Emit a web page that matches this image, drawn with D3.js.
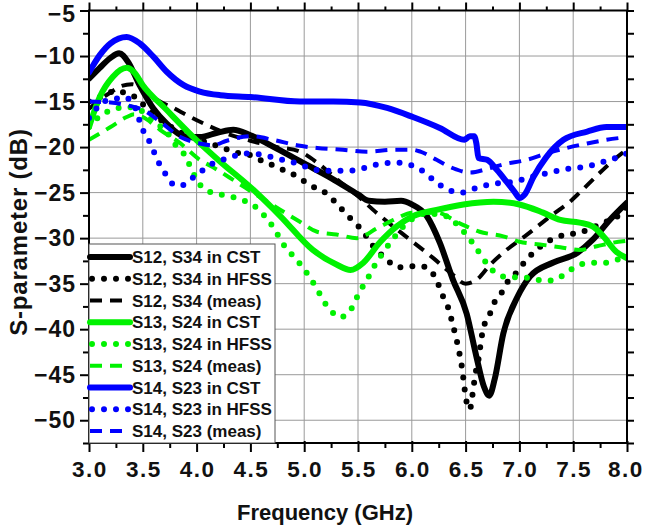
<!DOCTYPE html>
<html><head><meta charset="utf-8">
<script src="https://cdn.jsdelivr.net/npm/d3@7"></script>
<style>
body{margin:0;background:#fff;}
svg{display:block;}
text{font-family:"Liberation Sans",Arial,sans-serif;font-weight:bold;fill:#111;}
</style></head>
<body>
<svg id="chart" width="645" height="529"></svg>
<script>
// ---- data (frequency GHz, S-parameter dB) ----
const s12Cst = [[3.0,-12.5],[3.1,-11.3],[3.2,-10.2],[3.28,-9.7],[3.36,-10.6],[3.47,-13.2],[3.6,-15.8],[3.72,-17.4],[3.88,-18.8],[4.03,-18.9],[4.2,-18.4],[4.34,-18.1],[4.5,-18.7],[4.75,-20.2],[5.0,-21.8],[5.25,-23.4],[5.5,-25.2],[5.6,-25.9],[5.75,-26.0],[5.9,-25.9],[6.0,-26.3],[6.14,-27.6],[6.26,-30.5],[6.38,-34.5],[6.51,-38.3],[6.6,-43],[6.67,-46.3],[6.72,-47.3],[6.77,-45.5],[6.85,-40.5],[6.98,-36.5],[7.1,-34.2],[7.31,-32.7],[7.54,-31.6],[7.68,-30.2],[7.84,-28.0],[8.0,-26.1]];
const s12Hfss = [[3.0,-15.0],[3.1,-14.5],[3.24,-13.9],[3.4,-14.3],[3.5,-15.3],[3.63,-16.7],[3.78,-17.9],[3.95,-18.9],[4.1,-19.5],[4.22,-20.0],[4.4,-20.7],[4.53,-21.0],[4.62,-21.6],[4.73,-22.1],[4.84,-22.7],[4.93,-23.2],[5.02,-23.9],[5.12,-24.6],[5.22,-25.2],[5.3,-26.2],[5.38,-27.2],[5.46,-28.2],[5.55,-29.3],[5.61,-30.4],[5.69,-31.5],[5.77,-32.4],[5.87,-33.2],[5.98,-33.1],[6.09,-33.1],[6.19,-33.8],[6.24,-34.9],[6.29,-36.4],[6.34,-37.7],[6.37,-39.0],[6.4,-40.4],[6.43,-41.9],[6.45,-43.1],[6.47,-44.5],[6.49,-46.5],[6.52,-48.5],[6.54,-48.8],[6.56,-47.5],[6.59,-45.0],[6.62,-43.3],[6.65,-40.8],[6.68,-39.3],[6.73,-38.2],[6.77,-37.0],[6.84,-35.9],[6.9,-34.6],[6.98,-33.7],[7.05,-32.6],[7.13,-31.6],[7.22,-30.7],[7.33,-30.0],[7.44,-29.6],[7.56,-29.4],[7.67,-28.9],[7.78,-28.3],[7.89,-27.8],[8.0,-26.5]];
const s12Meas = [[3.0,-15.8],[3.1,-14.8],[3.2,-14.0],[3.3,-13.3],[3.4,-13.1],[3.5,-13.6],[3.63,-14.8],[3.8,-15.8],[3.91,-16.5],[4.1,-17.6],[4.3,-18.6],[4.5,-19.3],[4.75,-20.0],[4.96,-20.5],[5.12,-21.7],[5.3,-23.5],[5.5,-25.4],[5.68,-27.3],[5.9,-29.4],[6.2,-32.2],[6.38,-34.0],[6.5,-35.0],[6.6,-34.6],[6.73,-32.9],[6.88,-31.3],[7.05,-29.8],[7.31,-27.4],[7.47,-26.0],[7.56,-25.0],[7.75,-22.8],[7.94,-20.8],[8.0,-20.3]];
const s13Cst = [[3.0,-17.8],[3.1,-14.5],[3.22,-12.3],[3.35,-11.3],[3.42,-11.8],[3.5,-13.2],[3.72,-15.9],[3.97,-18.9],[4.22,-21.6],[4.5,-24.4],[4.78,-27.6],[5.08,-31.3],[5.3,-32.9],[5.43,-33.5],[5.55,-32.7],[5.7,-30.5],[5.86,-28.7],[6.01,-27.6],[6.23,-26.9],[6.48,-26.3],[6.76,-26.0],[7.0,-26.3],[7.22,-27.2],[7.38,-28.0],[7.56,-28.3],[7.68,-28.7],[7.78,-29.8],[7.9,-31.5],[8.0,-32.2]];
const s13Hfss = [[3.0,-17.8],[3.1,-16.6],[3.22,-15.9],[3.35,-15.6],[3.5,-16.1],[3.6,-17.2],[3.72,-18.3],[3.8,-19.7],[3.88,-20.7],[3.94,-22.1],[4.0,-23.6],[4.1,-24.8],[4.22,-25.2],[4.4,-25.7],[4.55,-26.6],[4.7,-28.6],[4.82,-30.9],[4.9,-32.0],[4.98,-33.1],[5.05,-34.3],[5.12,-35.6],[5.18,-36.9],[5.25,-38.0],[5.33,-38.7],[5.43,-37.9],[5.49,-36.5],[5.54,-35.4],[5.6,-34.2],[5.66,-32.9],[5.72,-31.8],[5.8,-30.5],[5.95,-28.4],[6.14,-27.3],[6.32,-27.6],[6.46,-29.0],[6.57,-30.6],[6.65,-32.0],[6.71,-33.0],[6.8,-34.0],[6.91,-34.3],[7.02,-34.3],[7.14,-34.5],[7.25,-34.7],[7.36,-34.4],[7.45,-33.7],[7.56,-32.9],[7.68,-32.7],[7.8,-32.7],[7.9,-32.4],[8.0,-32.1]];
const s13Meas = [[3.0,-19.2],[3.2,-17.8],[3.35,-16.7],[3.42,-16.4],[3.5,-16.7],[3.66,-18.1],[3.85,-19.6],[4.03,-21.4],[4.15,-22.2],[4.34,-23.6],[4.55,-25.2],[4.78,-26.9],[4.96,-28.2],[5.12,-29.3],[5.3,-29.6],[5.49,-30.0],[5.68,-28.9],[5.83,-28.0],[6.01,-27.2],[6.23,-27.2],[6.45,-28.4],[6.63,-29.3],[6.85,-29.8],[7.0,-30.4],[7.19,-30.7],[7.38,-31.0],[7.56,-31.3],[7.72,-30.9],[7.87,-30.5],[8.0,-30.3]];
const s14Cst = [[3.0,-11.8],[3.1,-9.9],[3.2,-8.6],[3.35,-7.9],[3.47,-8.6],[3.6,-10.1],[3.72,-11.7],[3.88,-13.2],[4.03,-13.9],[4.22,-14.3],[4.5,-14.5],[4.96,-15.0],[5.27,-15.0],[5.52,-15.1],[5.77,-15.7],[6.01,-16.7],[6.26,-17.9],[6.49,-19.2],[6.54,-18.8],[6.58,-18.8],[6.6,-19.6],[6.62,-21.2],[6.7,-21.4],[6.79,-22.5],[6.88,-23.8],[6.96,-25.0],[7.0,-25.6],[7.05,-25.2],[7.13,-23.3],[7.25,-21.1],[7.41,-19.2],[7.63,-18.3],[7.81,-17.8],[8.0,-17.8]];
const s14Hfss = [[3.0,-16.8],[3.06,-15.9],[3.13,-15.0],[3.22,-14.8],[3.32,-14.5],[3.41,-15.2],[3.5,-18.1],[3.57,-19.6],[3.61,-20.7],[3.66,-22.0],[3.72,-23.1],[3.8,-24.2],[3.86,-24.2],[3.96,-23.4],[4.05,-22.6],[4.15,-21.8],[4.27,-21.3],[4.37,-20.9],[4.48,-20.7],[4.59,-20.8],[4.7,-21.1],[4.8,-21.4],[4.93,-21.8],[5.05,-22.3],[5.16,-22.6],[5.38,-22.6],[5.5,-22.5],[5.61,-22.1],[5.73,-21.8],[5.84,-21.7],[5.96,-21.9],[6.06,-22.3],[6.14,-23.0],[6.23,-23.9],[6.34,-24.7],[6.46,-25.0],[6.6,-24.5],[6.73,-24.1],[6.85,-23.9],[6.96,-23.8],[7.07,-23.4],[7.17,-23.1],[7.28,-22.8],[7.4,-22.5],[7.5,-22.3],[7.61,-22.2],[7.73,-21.8],[7.84,-21.4],[7.96,-20.9],[8.0,-20.7]];
const s14Meas = [[3.0,-15.0],[3.2,-15.1],[3.35,-15.4],[3.5,-15.9],[3.66,-17.2],[3.85,-18.9],[4.03,-19.6],[4.15,-19.8],[4.28,-19.3],[4.5,-18.8],[4.71,-19.2],[4.93,-19.8],[5.12,-20.1],[5.36,-20.3],[5.58,-20.5],[5.83,-20.3],[6.01,-20.3],[6.08,-20.5],[6.23,-21.4],[6.38,-22.3],[6.54,-22.8],[6.7,-22.4],[6.85,-21.9],[7.07,-21.4],[7.25,-20.7],[7.44,-20.1],[7.63,-19.6],[7.81,-19.2],[8.0,-18.9]];

const seriesNames = ["S12, S34 in CST","S12, S34 in HFSS","S12, S34 (meas)","S13, S24 in CST","S13, S24 in HFSS","S13, S24 (meas)","S14, S23 in CST","S14, S23 in HFSS","S14, S23 (meas)"];
const seriesData = [s12Cst,s12Hfss,s12Meas,s13Cst,s13Hfss,s13Meas,s14Cst,s14Hfss,s14Meas];
const seriesColor = ["#000000","#000000","#000000","#00f200","#00f200","#00f200","#0000ff","#0000ff","#0000ff"];
const seriesStyle = ["solid","dot","dash","solid","dot","dash","solid","dot","dash"];
const xTicks = [3.0,3.5,4.0,4.5,5.0,5.5,6.0,6.5,7.0,7.5,8.0];
const yTicks = [-5,-10,-15,-20,-25,-30,-35,-40,-45,-50];
const xTitle = "Frequency (GHz)";
const yTitle = "S-parameter (dB)";

// ---- layout ----
const L = 89, R = 627, T = 10.5, B = 443;
const svg = d3.select("#chart");
const x = d3.scaleLinear().domain([3, 8]).range([L, R]);
const y = d3.scaleLinear().domain([-5, -52.5]).range([T, B]);

// grid
const grid = svg.append("g").attr("stroke", "#9a9a9a").attr("stroke-width", 1);
xTicks.slice(1, -1).forEach(t => grid.append("line").attr("x1", x(t)).attr("x2", x(t)).attr("y1", T).attr("y2", B));
yTicks.slice(1).forEach(t => grid.append("line").attr("x1", L).attr("x2", R).attr("y1", y(t)).attr("y2", y(t)));

// clip
svg.append("defs").append("clipPath").attr("id", "clip")
  .append("rect").attr("x", L).attr("y", T).attr("width", R - L).attr("height", B - T);

const line = d3.line().x(d => x(d[0])).y(d => y(d[1])).curve(d3.curveMonotoneX);
const styleOf = s => s === "solid" ? {w: 6, dash: null, cap: "round"}
  : s === "dot" ? {w: 6, dash: "0,12", cap: "round"}
  : {w: 4, dash: "12,8", cap: "butt"};

const lines = svg.append("g").attr("clip-path", "url(#clip)");
seriesData.forEach((d, i) => {
  const st = styleOf(seriesStyle[i]);
  lines.append("path").attr("d", line(d)).attr("fill", "none")
    .attr("stroke", seriesColor[i]).attr("stroke-width", st.w)
    .attr("stroke-linecap", st.cap).attr("stroke-linejoin", "round")
    .attr("stroke-dasharray", st.dash);
});

// axes
const isMajorX = d => Math.abs(d * 2 - Math.round(d * 2)) < 1e-6;
const gb = svg.append("g").attr("transform", `translate(0,${B})`)
  .call(d3.axisBottom(x).tickValues(d3.range(3, 8.001, 0.25)).tickFormat("").tickSizeOuter(0));
gb.selectAll(".tick line").attr("y2", d => isMajorX(d) ? 9 : 5).attr("y1", d => isMajorX(d) ? -2 : 0).attr("stroke-width", 2);
gb.select(".domain").remove();
const gt = svg.append("g").attr("transform", `translate(0,${T})`)
  .call(d3.axisTop(x).tickValues(d3.range(3, 8.001, 0.25)).tickFormat("").tickSizeOuter(0));
gt.selectAll(".tick line").attr("y2", d => isMajorX(d) ? -8 : -4).attr("stroke-width", 2);
gt.select(".domain").remove();
const gl = svg.append("g").attr("transform", `translate(${L},0)`)
  .call(d3.axisLeft(y).tickValues(d3.range(-5, -52.6, -2.5)).tickFormat("").tickSizeOuter(0));
gl.selectAll(".tick line").attr("x2", d => (d % 5 === 0) ? -9 : -6).attr("stroke-width", 2);
gl.select(".domain").remove();
const gr = svg.append("g").attr("transform", `translate(${R},0)`)
  .call(d3.axisRight(y).tickValues(d3.range(-5, -52.6, -2.5)).tickFormat("").tickSizeOuter(0));
gr.selectAll(".tick line").attr("x2", 7).attr("stroke-width", 2);
gr.select(".domain").remove();

// frame
svg.append("rect").attr("x", L).attr("y", T).attr("width", R - L).attr("height", B - T)
  .attr("fill", "none").attr("stroke", "#000").attr("stroke-width", 2);

// tick labels
svg.append("g").selectAll("text").data(xTicks).join("text")
  .attr("x", (d, i) => x(d) + (i === xTicks.length - 1 ? -1 : 1)).attr("y", 477).attr("text-anchor", "middle")
  .attr("font-size", 22.5).style("letter-spacing", "1.5px")
  .text(d => d.toFixed(1));
svg.append("g").selectAll("text").data(yTicks).join("text")
  .attr("x", 76).attr("y", d => Math.max(y(d) + 8, 21.5)).attr("text-anchor", "end")
  .attr("font-size", 23).style("letter-spacing", "1px")
  .text(d => "\u2212" + Math.abs(d));

// titles
svg.append("text").attr("x", 325).attr("y", 520).attr("text-anchor", "middle").attr("font-size", 22).text(xTitle);
svg.append("text").attr("transform", "translate(27,232) rotate(-90)").attr("text-anchor", "middle")
  .attr("font-size", 24).style("letter-spacing", "0.8px").text(yTitle);

// legend
const lg = svg.append("g");
lg.append("rect").attr("x", L).attr("y", 244).attr("width", 186).attr("height", B - 244)
  .attr("fill", "#fff").attr("stroke", "#555").attr("stroke-width", 1);
seriesNames.forEach((n, i) => {
  const cy = 257 + i * 21.75;
  const st = styleOf(seriesStyle[i]);
  lg.append("line").attr("x1", seriesStyle[i] === "dot" ? 92 : 90).attr("x2", 130).attr("y1", cy).attr("y2", cy)
    .attr("stroke", seriesColor[i]).attr("stroke-width", st.w)
    .attr("stroke-linecap", st.cap).attr("stroke-dasharray", st.dash);
  lg.append("text").attr("x", 132).attr("y", cy + 6).attr("font-size", 17).text(n);
});
</script>
</body></html>
